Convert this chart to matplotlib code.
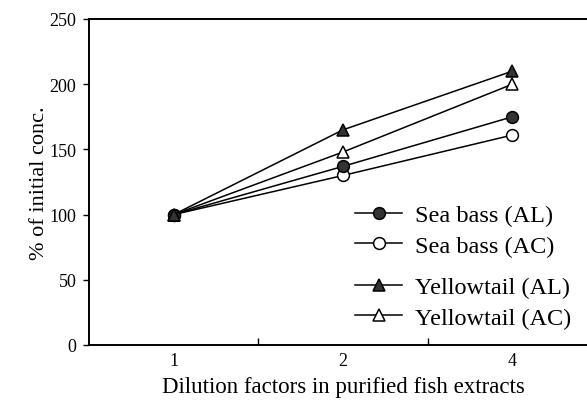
import matplotlib
matplotlib.use('Agg')
import matplotlib.pyplot as plt
from matplotlib.lines import Line2D

plt.rcParams['font.family'] = ['Liberation Serif', 'DejaVu Serif']

# dilution factors (shown as equally spaced categories)
dilution_labels = ['1', '2', '4']
x_pos = [1, 2, 3]

sea_bass_al = [100, 137, 175]
sea_bass_ac = [100, 130, 161]
yellowtail_al = [100, 165, 210]
yellowtail_ac = [100, 148, 200]

fig = plt.figure(figsize=(5.87, 4.06), dpi=100)
W, H = 587, 406
left, right, top, bottom = 89, 597, 20, 346
ax = fig.add_axes([left / W, 1 - bottom / H, (right - left) / W, (bottom - top) / H])

fill_dark = '#333333'
common = dict(color='black', linewidth=1.1, markersize=8.5, markeredgewidth=1.1,
              markeredgecolor='black', zorder=3)
ax.plot(x_pos, sea_bass_ac, marker='o', markerfacecolor='white', **common)
ax.plot(x_pos, sea_bass_al, marker='o', markerfacecolor=fill_dark, **common)
ax.plot(x_pos, yellowtail_ac, marker='^', markerfacecolor='white', **common)
ax.plot(x_pos, yellowtail_al, marker='^', markerfacecolor=fill_dark, **common)

ax.set_xlim(0.5, 3.5)
ax.set_ylim(0, 250)
ax.set_yticks([0, 50, 100, 150, 200, 250])
ax.tick_params(axis='y', direction='out', length=4, width=1, labelsize=13, pad=5)

# major ticks between categories (inward), labels at categories (no marks)
ax.set_xticks([1.5, 2.5])
ax.set_xticklabels([])
ax.tick_params(axis='x', which='major', direction='in', length=5, width=1)
ax.set_xticks(x_pos, minor=True)
ax.set_xticklabels(dilution_labels, minor=True)
ax.tick_params(axis='x', which='minor', length=0, labelsize=13, pad=5)

for s in ['left', 'bottom', 'top']:
    ax.spines[s].set_linewidth(1.4)
ax.spines['right'].set_visible(False)

ax.set_ylabel('% of initial conc.', fontsize=16, labelpad=0)
ax.set_xlabel('Dilution factors in purified fish extracts', fontsize=16.5, labelpad=5)

def handle(marker, face):
    return Line2D([], [], color='black', linewidth=1.1, marker=marker, markersize=8.5,
                  markerfacecolor=face, markeredgecolor='black', markeredgewidth=1.1)

leg_kw = dict(frameon=False, fontsize=17.5, handlelength=1.95, handletextpad=0.5,
              borderaxespad=0, borderpad=0, labelspacing=0.35)
leg1 = ax.legend([handle('o', fill_dark), handle('o', 'white')],
                 ['Sea bass (AL)', 'Sea bass (AC)'],
                 loc='upper left', bbox_to_anchor=(355 / W, 1 - 205 / H),
                 bbox_transform=fig.transFigure, **leg_kw)
ax.add_artist(leg1)
ax.legend([handle('^', fill_dark), handle('^', 'white')],
          ['Yellowtail (AL)', 'Yellowtail (AC)'],
          loc='upper left', bbox_to_anchor=(355 / W, 1 - 277 / H),
          bbox_transform=fig.transFigure, **leg_kw)

fig.savefig('out.png', dpi=100)
